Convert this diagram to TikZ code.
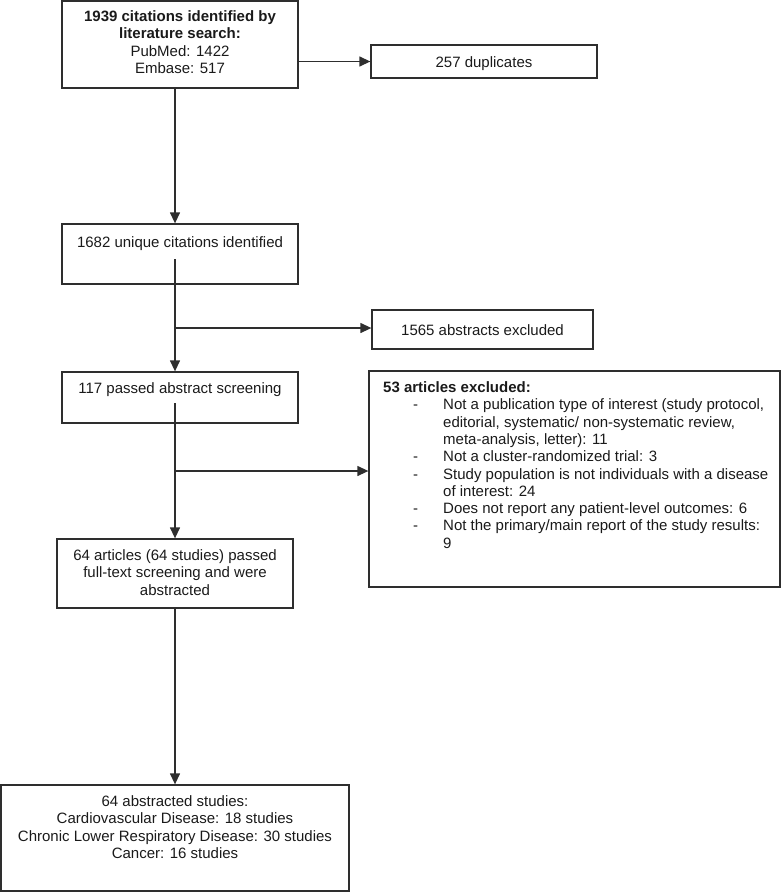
\documentclass[tikz,border=0pt]{standalone}
\usepackage{fontspec}
\setmainfont{Liberation Sans}
\usetikzlibrary{arrows.meta}
\definecolor{linec}{HTML}{2E2E2E}
\definecolor{textc}{HTML}{1A1A1A}
\newcommand{\dashitem}{\makebox[60pt][l]{\hspace*{30pt}-}}
\newcommand{\contitem}{\hspace*{60pt}}
\begin{document}
\begin{tikzpicture}[x=1pt,y=-1pt,
  box/.style={draw=linec, line width=1.3pt, rectangle, inner sep=0pt, fill=none},
  txt/.style={inner sep=0pt, text=textc, font=\fontsize{15}{17.3}\selectfont},
  conn/.style={draw=linec, line width=1.3pt},
  arr/.style={conn, -{Triangle[length=11pt,width=10pt]}}]
\useasboundingbox (0,0) rectangle (781,892);
% boxes
\node[box, minimum width=236pt, minimum height=87pt] (b1) at (180,44.5) {};
\node[box, minimum width=226pt, minimum height=33pt] (b257) at (484,61.5) {};
\node[box, minimum width=236pt, minimum height=60pt] (b2) at (180,254) {};
\node[box, minimum width=221pt, minimum height=39pt] (b1565) at (482.5,329.5) {};
\node[box, minimum width=236pt, minimum height=51pt] (b117) at (180,397.5) {};
\node[box, minimum width=411pt, minimum height=216pt] (b53) at (574.5,479) {};
\node[box, minimum width=236pt, minimum height=69pt] (b64) at (175,573.5) {};
\node[box, minimum width=348pt, minimum height=106pt] (bfin) at (175,838) {};
% texts
\node[txt, anchor=north, align=center] (t1) at (180,10.5)
  {\textbf{1939 citations identified by}\\\textbf{literature search:}\\PubMed: 1422\\Embase: 517};
\node[txt, anchor=base] (t257) at (484,67) {257 duplicates};
\node[txt, anchor=base] (t2) at (180,247.4) {1682 unique citations identified};
\node[txt, anchor=base] (t1565) at (482.5,335) {1565 abstracts excluded};
\node[txt, anchor=base] (t117) at (180,393.4) {117 passed abstract screening};
\node[txt, anchor=north west, align=left] (t53) at (383,381.5)
  {\textbf{53 articles excluded:}\\
   \dashitem Not a publication type of interest (study protocol,\\
   \contitem editorial, systematic/ non-systematic review,\\
   \contitem meta-analysis, letter): 11\\
   \dashitem Not a cluster-randomized trial: 3\\
   \dashitem Study population is not individuals with a disease\\
   \contitem of interest: 24\\
   \dashitem Does not report any patient-level outcomes: 6\\
   \dashitem Not the primary/main report of the study results:\\
   \contitem 9};
\node[txt, anchor=north, align=center] (t64) at (175,549.5)
  {64 articles (64 studies) passed\\full-text screening and were\\abstracted};
\node[txt, anchor=north, align=center] (tfin) at (175,795.5)
  {64 abstracted studies:\\Cardiovascular Disease: 18 studies\\Chronic Lower Respiratory Disease: 30 studies\\Cancer: 16 studies};
% connector coordinates
\coordinate (s2) at (175,259);
\coordinate (j1) at (175,328);
\coordinate (s3) at (175,403);
\coordinate (j2) at (175,471);
% connectors
\draw[arr] (b1.east |- b257.west) -- (b257.west);
\draw[arr] (b1.south -| s2) -- (b2.north -| s2);
\draw[arr] (s2) -- (b117.north -| s2);
\draw[arr] (j1) -- (j1 -| b1565.west);
\draw[arr] (s3) -- (b64.north);
\draw[arr] (j2) -- (j2 -| b53.west);
\draw[arr] (b64.south) -- (bfin.north);
\end{tikzpicture}
\end{document}
